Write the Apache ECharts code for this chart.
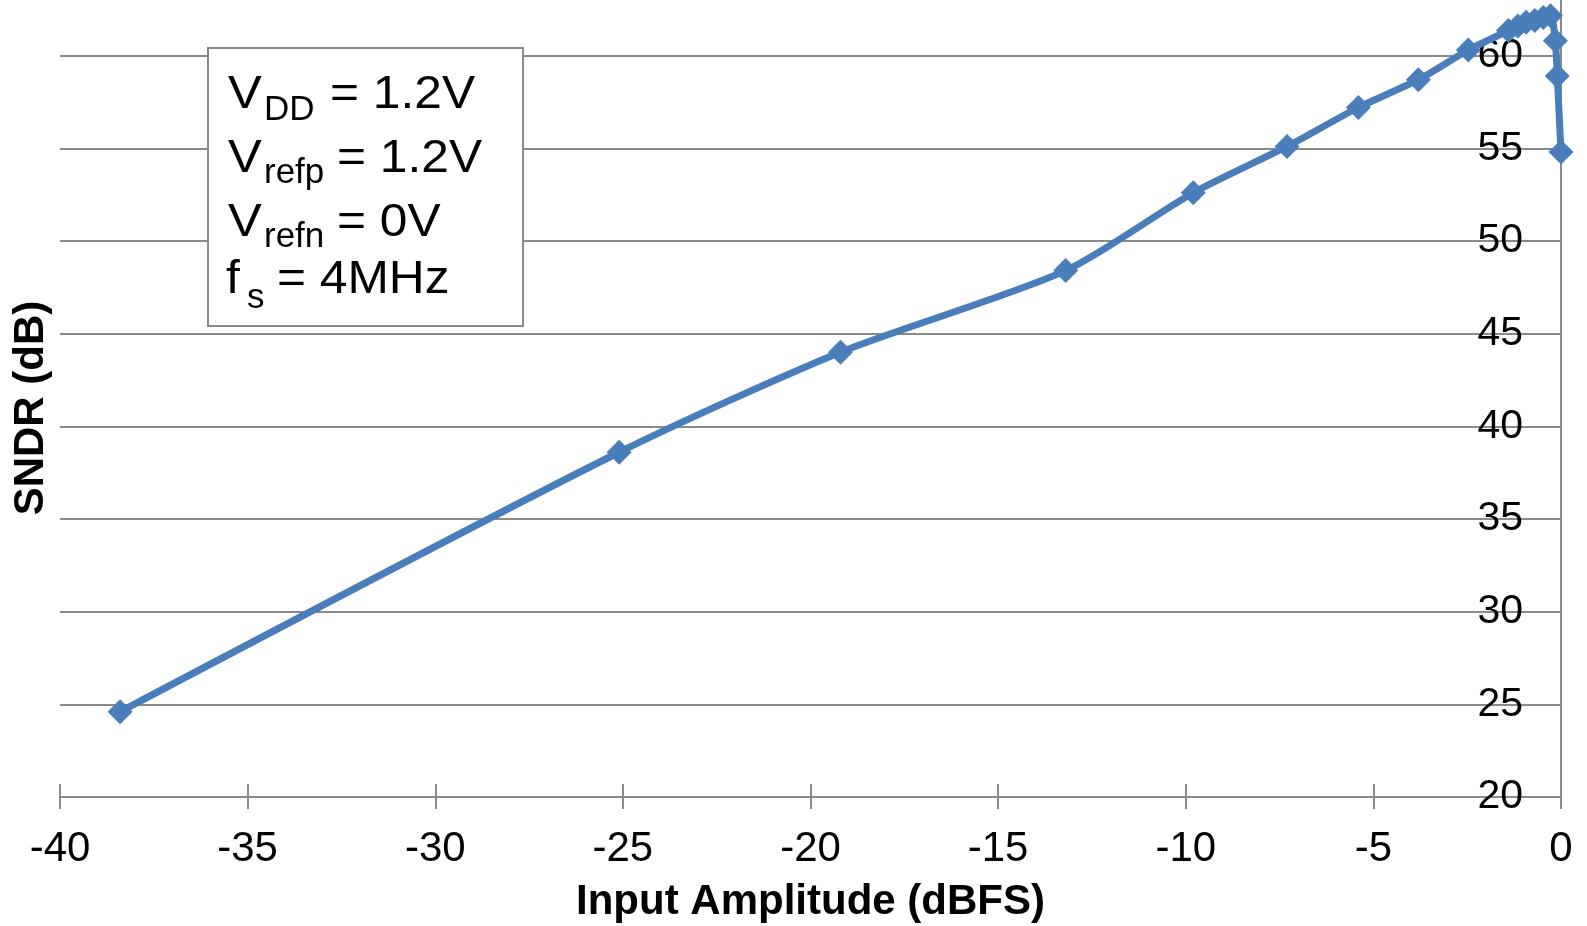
<!DOCTYPE html>
<html>
<head>
<meta charset="utf-8">
<script src="https://cdn.jsdelivr.net/npm/echarts@6/dist/echarts.min.js"></script>
<style>
html,body{margin:0;padding:0;background:#fff;}
#c{width:1587px;height:926px;}
</style>
</head>
<body>
<div id="c"></div>
<script>
// Data
const inputAmplitude = [-38.4, -25.1, -19.2, -13.2, -9.8, -7.3, -5.4, -3.8, -2.47, -1.4, -1.15, -0.93, -0.7, -0.47, -0.28, -0.15, -0.1, 0];
const sndr = [24.6, 38.6, 44.0, 48.4, 52.6, 55.1, 57.2, 58.7, 60.3, 61.35, 61.6, 61.8, 61.9, 62.05, 62.15, 60.8, 58.9, 54.8];
const xTicks = { min: -40, max: 0, interval: 5 };
const yTicks = { min: 20, max: 63, interval: 5 };
const xTitle = 'Input Amplitude (dBFS)';
const yTitle = 'SNDR (dB)';

const font = '"Liberation Sans", Arial, sans-serif';
const points = inputAmplitude.map((x, i) => [x, sndr[i]]);

function txt(x, y, text, size, sx) {
  return { type: 'text', x: x, y: y - 0.35 * size, z: 20, scaleX: sx || 1,
    style: { text: text, font: size + 'px ' + font, fill: '#000', verticalAlign: 'middle', align: 'left' } };
}

const chart = echarts.init(document.getElementById('c'), null, { renderer: 'canvas' });
chart.setOption({
  animation: false,
  backgroundColor: '#fff',
  grid: { left: 60, right: 26, top: 0, bottom: 129, containLabel: false, outerBoundsMode: 'none' },
  xAxis: [{
    type: 'value',
    min: xTicks.min, max: xTicks.max, interval: xTicks.interval,
    position: 'bottom',
    axisLine: { show: true, lineStyle: { color: '#8a8a8a', width: 2 } },
    axisTick: { show: true, inside: false, length: 12, lineStyle: { color: '#8a8a8a', width: 2 } },
    axisLabel: { fontSize: 42, color: '#000', fontFamily: font, margin: 31 },
    splitLine: { show: false },
    name: xTitle, nameLocation: 'middle', nameGap: 84,
    nameTextStyle: { fontSize: 42, fontWeight: 'bold', color: '#000', fontFamily: font }
  }, {
    type: 'value',
    min: xTicks.min, max: xTicks.max, interval: xTicks.interval,
    position: 'bottom',
    axisLine: { show: false },
    axisTick: { show: true, inside: true, length: 13, lineStyle: { color: '#8a8a8a', width: 2 } },
    axisLabel: { show: false },
    splitLine: { show: false }
  }],
  yAxis: {
    type: 'value',
    min: yTicks.min, max: yTicks.max, interval: yTicks.interval,
    position: 'right',
    axisLine: { show: true, onZero: false, lineStyle: { color: '#8a8a8a', width: 2 } },
    axisTick: { show: false },
    axisLabel: { inside: true, fontSize: 41, color: '#000', fontFamily: font, margin: 38, showMaxLabel: false },
    splitLine: { show: true, showMaxLine: false, lineStyle: { color: '#8a8a8a', width: 2 } }
  },
  series: [{
    type: 'line',
    data: points,
    smooth: 0.25,
    symbol: 'diamond',
    symbolSize: 25,
    itemStyle: { color: '#4a7ebb' },
    lineStyle: { color: '#4a7ebb', width: 7 },
    z: 5
  }],
  graphic: [
    { type: 'text', x: 31, y: 408, rotation: Math.PI / 2,
      style: { text: yTitle, font: 'bold 42px ' + font, fill: '#000', align: 'center', verticalAlign: 'middle' } },
    { type: 'rect', z: 10, shape: { x: 208, y: 48, width: 315, height: 278 },
      style: { fill: '#fff', stroke: '#8a8a8a', lineWidth: 2 } },
    txt(228, 111, 'V', 46, 1.1), txt(264, 123, 'DD', 35), txt(330, 111, '= 1.2V', 46, 1.08),
    txt(228, 175, 'V', 46, 1.1), txt(264, 186, 'refp', 35), txt(337, 175, '= 1.2V', 46, 1.08),
    txt(228, 239, 'V', 46, 1.1), txt(264, 250, 'refn', 35), txt(337, 239, '= 0V', 46, 1.08),
    txt(226, 296, 'f', 46, 1.08), txt(247, 311, 's', 35), txt(277, 296, '= 4MHz', 46, 1.08)
  ]
});
</script>
</body>
</html>
